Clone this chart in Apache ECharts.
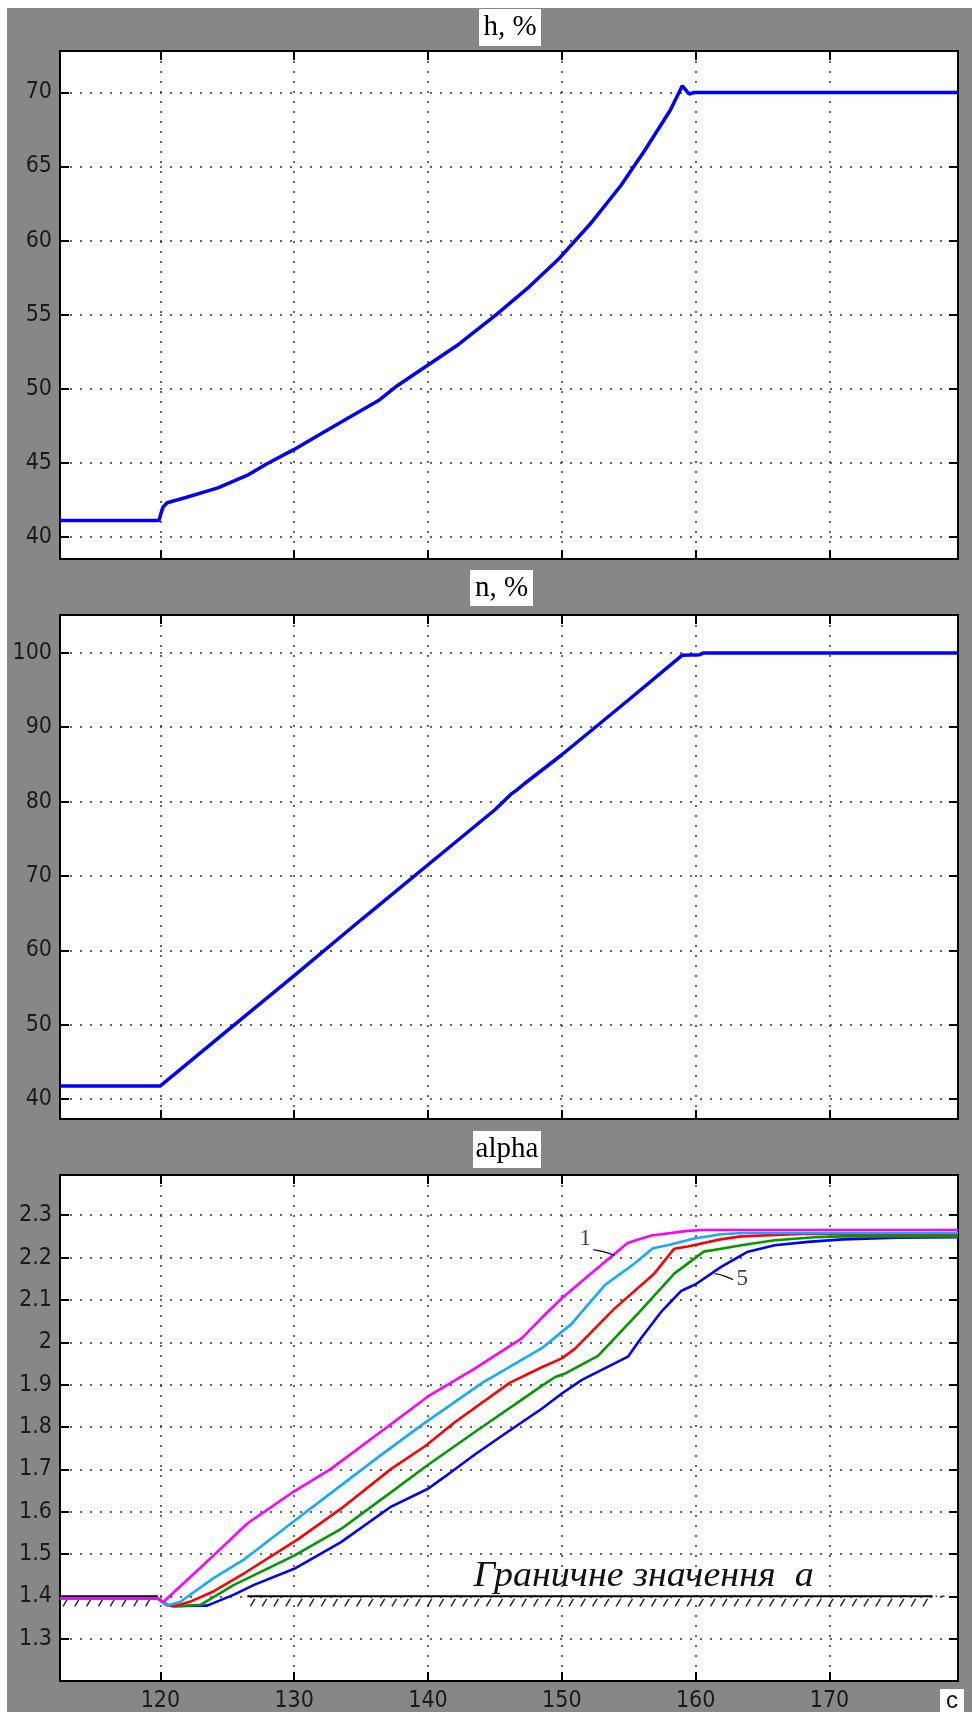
<!DOCTYPE html>
<html>
<head>
<meta charset="utf-8">
<script src="https://cdn.jsdelivr.net/npm/echarts@6/dist/echarts.min.js"></script>
<style>
html,body{margin:0;padding:0;background:#fff;}
#bg{position:absolute;left:7px;top:8px;width:965px;height:1704px;background:#878787;}
#c{position:absolute;left:0;top:0;width:972px;height:1712px;}
</style>
</head>
<body>
<div id="bg"></div>
<div id="c"></div>
<script>
// ---------- axis ticks ----------
const xTicks = [120, 130, 140, 150, 160, 170];
const hTicks = [40, 45, 50, 55, 60, 65, 70];
const nTicks = [40, 50, 60, 70, 80, 90, 100];
const aTicks = [1.3, 1.4, 1.5, 1.6, 1.7, 1.8, 1.9, 2, 2.1, 2.2, 2.3];

// ---------- panel 1: h, % ----------
const hTime   = [112.5, 119.9, 120.05, 120.2, 120.5, 121.9, 124.3, 126.6, 128.0, 130.0, 132.1, 134.0, 136.3, 137.7, 140.0, 142.3, 145.1, 147.4, 149.7, 152.1, 154.4, 156.2, 158.1, 159.0, 159.5, 159.9, 179.6];
const hValues = [41.1, 41.1, 41.6, 42.0, 42.3, 42.65, 43.3, 44.2, 44.95, 45.9, 47.0, 48.0, 49.2, 50.2, 51.6, 53.0, 55.0, 56.75, 58.7, 61.1, 63.7, 66.1, 68.8, 70.45, 69.9, 70.0, 70.0];

// ---------- panel 2: n, % ----------
const nTime   = [112.5, 120.0, 125, 130, 135, 140, 145, 146.2, 146.6, 147.2, 150, 155, 159.0, 160.3, 160.6, 179.6];
const nValues = [41.75, 41.75, 49.2, 56.6, 64.1, 71.5, 78.9, 81.0, 81.5, 82.4, 86.3, 93.7, 99.7, 99.75, 100.0, 100.0];

// ---------- panel 3: alpha, curves 1..5 ----------
const a1Time   = [112.5, 119.8, 120.2, 122.97, 124.26, 126.5, 130, 132.75, 136.75, 140, 143.4, 147.0, 148.45, 150, 152.47, 153.95, 154.94, 156.7, 159.4, 160.5, 179.6];
const a1Values = [1.395, 1.395, 1.386, 1.467, 1.505, 1.572, 1.648, 1.701, 1.795, 1.872, 1.936, 2.009, 2.056, 2.104, 2.17, 2.209, 2.235, 2.252, 2.263, 2.265, 2.265];

const a2Time   = [112.5, 119.8, 120.5, 121.5, 123.97, 126.3, 130, 133.5, 136.75, 139.6, 144.05, 148.6, 150.74, 153.21, 155.43, 156.8, 157.9, 159.9, 161.9, 163.5, 179.6];
const a2Values = [1.395, 1.395, 1.378, 1.387, 1.443, 1.488, 1.578, 1.662, 1.74, 1.806, 1.904, 1.988, 2.044, 2.135, 2.186, 2.222, 2.229, 2.245, 2.255, 2.258, 2.258];

const a3Time   = [112.5, 119.8, 120.4, 121, 122.2, 124, 126.3, 130.3, 133.5, 137.25, 139.8, 142, 146.1, 148.5, 150, 150.99, 153.95, 156.9, 158.4, 159.4, 161.85, 163.4, 166.4, 168, 179.6];
const a3Values = [1.395, 1.395, 1.38, 1.376, 1.387, 1.412, 1.455, 1.535, 1.607, 1.701, 1.755, 1.811, 1.904, 1.941, 1.962, 1.985, 2.08, 2.162, 2.221, 2.226, 2.243, 2.25, 2.254, 2.256, 2.256];

const a4Time   = [112.5, 119.8, 120.5, 121.2, 123, 125.5, 130, 133.5, 137.25, 139.8, 143.5, 148.5, 149.5, 150.3, 152.7, 155.7, 158.4, 160.6, 161.9, 163.4, 165.9, 168.9, 171, 179.6];
const a4Values = [1.395, 1.395, 1.38, 1.376, 1.38, 1.427, 1.496, 1.559, 1.646, 1.706, 1.788, 1.897, 1.918, 1.927, 1.968, 2.068, 2.162, 2.214, 2.221, 2.229, 2.241, 2.248, 2.25, 2.25];

const a5Time   = [112.5, 119.8, 120.5, 121.5, 123.5, 125.5, 127, 130, 133.5, 137.25, 140, 141.1, 143.5, 145.8, 148.5, 150, 151.5, 154.94, 155.9, 157.4, 158.9, 160, 161.9, 163.9, 165.9, 168.4, 171, 175, 179.6];
const a5Values = [1.395, 1.395, 1.38, 1.377, 1.378, 1.404, 1.427, 1.465, 1.528, 1.612, 1.654, 1.679, 1.735, 1.785, 1.843, 1.879, 1.911, 1.966, 2.009, 2.071, 2.121, 2.137, 2.178, 2.214, 2.229, 2.237, 2.243, 2.247, 2.248];

// threshold "Граничне значення a" (hatched line) segments [xStart, xEnd, level]
const thresholdSegments = [[112.5, 119.8, 1.4], [126.5, 177.7, 1.4]];

// curve labels and their leader lines
const curveLabels = [{ value: [151.75, 2.245], name: '1' }, { value: [163.47, 2.15], name: '5' }];
const leader1 = [[152.35, 2.219], [153.1, 2.214], [153.95, 2.205]];
const leader5 = [[161.42, 2.162], [162.1, 2.157], [162.79, 2.148]];

// ---------- build ----------
const zip = (t, v) => t.map((x, i) => [x, v[i]]);
const X_MIN = 112.5, X_MAX = 179.6;
const tickFont = '"Liberation Sans Narrow", "Arial Narrow", "DejaVu Sans Condensed", sans-serif';
const gridLine = { show: true, lineStyle: { color: '#333', type: [2, 8], width: 1.5 } };
const tickStyle = (vals) => ({ show: true, inside: true, length: 9, lineStyle: { color: '#000', width: 2 }, customValues: vals });

const gridDefs = [
  { left: 60, top: 51, width: 898, height: 508 },
  { left: 60, top: 615, width: 898, height: 504 },
  { left: 60, top: 1175, width: 898, height: 506 }
];
const yRanges = [[38.5, 72.8, hTicks], [37.3, 105.1, nTicks], [1.2, 2.395, aTicks]];

const grid = gridDefs.map(g => Object.assign({}, g, {
  show: true, backgroundColor: '#fff', borderColor: '#000', borderWidth: 2,
  containLabel: false, outerBoundsMode: 'none'
}));

const xAxis = [], yAxis = [];
gridDefs.forEach((g, i) => {
  const showLbl = i === 2;
  xAxis.push({
    type: 'value', gridIndex: i, min: X_MIN, max: X_MAX, position: 'bottom',
    axisLine: { show: false }, axisTick: tickStyle(xTicks),
    axisLabel: { show: showLbl, customValues: xTicks, fontSize: 23, fontFamily: tickFont, color: '#1a1a1a', margin: 9 },
    splitLine: gridLine
  });
  xAxis.push({
    type: 'value', gridIndex: i, min: X_MIN, max: X_MAX, position: 'top',
    axisLine: { show: false }, axisTick: tickStyle(xTicks),
    axisLabel: { show: false }, splitLine: { show: false }
  });
  const [mn, mx, tk] = yRanges[i];
  yAxis.push({
    type: 'value', gridIndex: i, min: mn, max: mx, position: 'left',
    axisLine: { show: false }, axisTick: tickStyle(tk),
    axisLabel: { show: true, customValues: tk, fontSize: 23, fontFamily: tickFont, color: '#1a1a1a', margin: 8 },
    splitLine: gridLine
  });
  yAxis.push({
    type: 'value', gridIndex: i, min: mn, max: mx, position: 'right',
    axisLine: { show: false }, axisTick: tickStyle(tk),
    axisLabel: { show: false }, splitLine: { show: false }
  });
});

const lineS = (xi, yi, data, color, width, z) => ({
  type: 'line', xAxisIndex: xi, yAxisIndex: yi, data: data, showSymbol: false, symbol: 'none',
  lineStyle: { color: color, width: width }, z: z || 2, animation: false
});

const series = [
  lineS(0, 0, zip(hTime, hValues), '#0000ff', 3.5),
  lineS(2, 2, zip(nTime, nValues), '#0000ff', 3.5),
  {
    type: 'custom', xAxisIndex: 4, yAxisIndex: 4, data: thresholdSegments,
    encode: { x: [0, 1], y: 2 }, z: 1, animation: false,
    renderItem: function (params, api) {
      const p0 = api.coord([api.value(0), api.value(2)]);
      const p1 = api.coord([api.value(1), api.value(2)]);
      const y = p0[1];
      const children = [{
        type: 'line', shape: { x1: p0[0], y1: y, x2: p1[0], y2: y },
        style: { stroke: '#000', lineWidth: 2 }
      }];
      for (let x = p0[0] + 3; x < p1[0] - 6; x += 11.8) {
        children.push({ type: 'line', shape: { x1: x + 4.5, y1: y + 2.5, x2: x, y2: y + 10 }, style: { stroke: '#222', lineWidth: 1.4 } });
      }
      if (params.dataIndex === thresholdSegments.length - 1) {
        children.push({ type: 'line', shape: { x1: p1[0] + 3, y1: y, x2: p1[0] + 4.5, y2: y }, style: { stroke: '#333', lineWidth: 1.5 } });
        children.push({ type: 'line', shape: { x1: p1[0] + 8, y1: y, x2: p1[0] + 12, y2: y }, style: { stroke: '#333', lineWidth: 1.5 } });
      }
      return { type: 'group', children: children };
    }
  },
  lineS(4, 4, zip(a5Time, a5Values), '#0000ff', 2.6, 3),
  lineS(4, 4, zip(a4Time, a4Values), '#009a00', 2.6, 4),
  lineS(4, 4, zip(a3Time, a3Values), '#ff0000', 2.6, 5),
  lineS(4, 4, zip(a2Time, a2Values), '#14aaff', 2.6, 6),
  lineS(4, 4, zip(a1Time, a1Values), '#ff00ff', 2.6, 7),
  Object.assign(lineS(4, 4, leader1, '#111', 1.3, 8), { smooth: true }),
  Object.assign(lineS(4, 4, leader5, '#111', 1.3, 8), { smooth: true }),
  {
    type: 'scatter', xAxisIndex: 4, yAxisIndex: 4, data: curveLabels, symbolSize: 0, z: 9, animation: false,
    label: { show: true, position: 'inside', formatter: '{b}', fontFamily: '"Liberation Serif", serif', fontSize: 23, color: '#111' }
  }
];

const titleBox = (x, y, w, h, text) => ({
  type: 'group', children: [
    { type: 'rect', shape: { x: x, y: y, width: w, height: h }, style: { fill: '#fff' } },
    { type: 'text', x: x + w / 2, y: y + h / 2, style: { text: text, font: '29px "Liberation Serif", serif', fill: '#000', align: 'center', verticalAlign: 'middle', textAlign: 'center', textVerticalAlign: 'middle' } }
  ]
});

const chart = echarts.init(document.getElementById('c'), null, { renderer: 'canvas' });
chart.setOption({
  animation: false,
  grid: grid, xAxis: xAxis, yAxis: yAxis, series: series
});

// text annotations positioned in data coordinates
const annoPos = chart.convertToPixel({ gridIndex: 2 }, [143.39, 1.446]);
const cPos = [952, 1701];
chart.setOption({
  graphic: [
    titleBox(479, 9, 62, 37, 'h, %'),
    titleBox(470, 570, 63, 36, 'n, %'),
    titleBox(473, 1131, 68, 37, 'alpha'),
    titleBox(940, 1689, 24, 23, ''),
    { type: 'text', x: cPos[0], y: cPos[1], z: 10, style: { text: 'c', font: '24px "Liberation Sans", sans-serif', fill: '#111', align: 'center', verticalAlign: 'middle', textAlign: 'center', textVerticalAlign: 'middle' } },
    { type: 'text', x: annoPos[0], y: annoPos[1], scaleY: 0.95, z: 10, style: { text: 'Граничне значення  a', font: 'italic 38px "Liberation Serif", serif', fill: '#111', align: 'left', verticalAlign: 'middle', textAlign: 'left', textVerticalAlign: 'middle' } }
  ]
});
</script>
</body>
</html>
